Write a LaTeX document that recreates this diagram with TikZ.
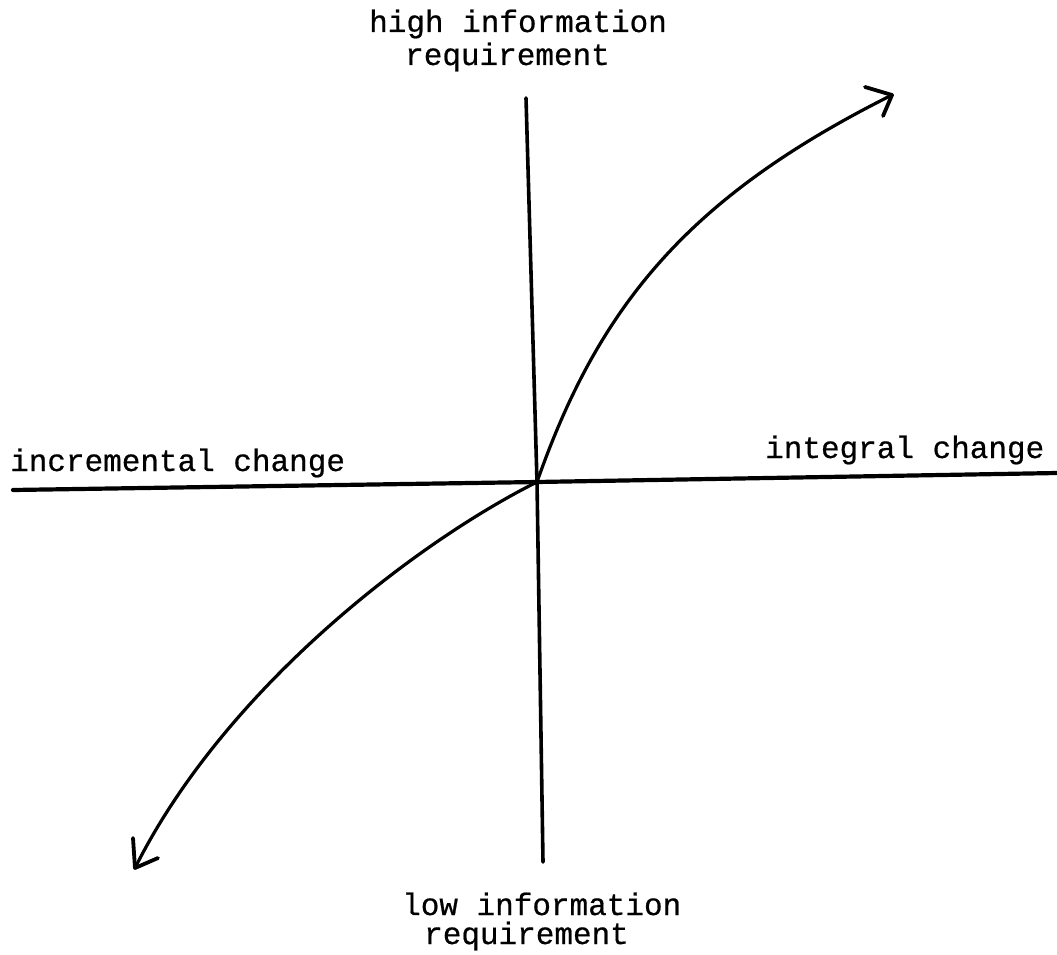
\documentclass[tikz,border=0pt]{standalone}
\usepackage{fontspec}
\setmonofont[FakeBold=0.6]{Liberation Mono}
\usetikzlibrary{calc}
\begin{document}
\begin{tikzpicture}[x=1pt,y=-1pt,
  lbl/.style={font=\ttfamily\fontsize{31}{31}\selectfont, inner sep=0pt, anchor=base west},
  axis/.style={line width=4.2pt, line cap=round},
  curve/.style={line width=3.2pt, line cap=round, line join=round}]
\useasboundingbox (0,0) rectangle (1057,955);
% labels
\node[lbl] (hi1) at (369,32) {high information};
\node[lbl] (hi2) at (405,65) {requirement};
\node[lbl, text depth=0pt] (lo1) at (402,915) {low information};
\node[lbl, text height=20pt] (lo2) at (424,944) {requirement};
\node[lbl] (inc) at (10,471) {incremental change};
\node[lbl] (int) at (765,458) {integral change};
% axes
\coordinate (O) at (537,482);
\coordinate (L) at (13,490);
\coordinate (R) at (1057,473);
\coordinate (T) at (526,98);
\coordinate (B) at (543,862);
\draw[axis] (L) -- (O) -- (R);
\draw[axis, line width=3.6pt] (T) -- (O) -- (B);
% curves
\coordinate (tipU) at (892,95);
\coordinate (tipD) at (135,868);
\draw[curve] (O) .. controls (600,302) and (692,195) .. (tipU);
\draw[curve] (O) .. controls (417,542) and (225,688) .. (tipD);
% arrowheads
\draw[curve, line width=3.8pt] ($(tipU)+(-27,-8)$) -- (tipU) -- ($(tipU)+(-9,21)$);
\draw[curve, line width=3.8pt] ($(tipD)+(-2,-30)$) -- (tipD) -- ($(tipD)+(23,-10)$);
\end{tikzpicture}
\end{document}
